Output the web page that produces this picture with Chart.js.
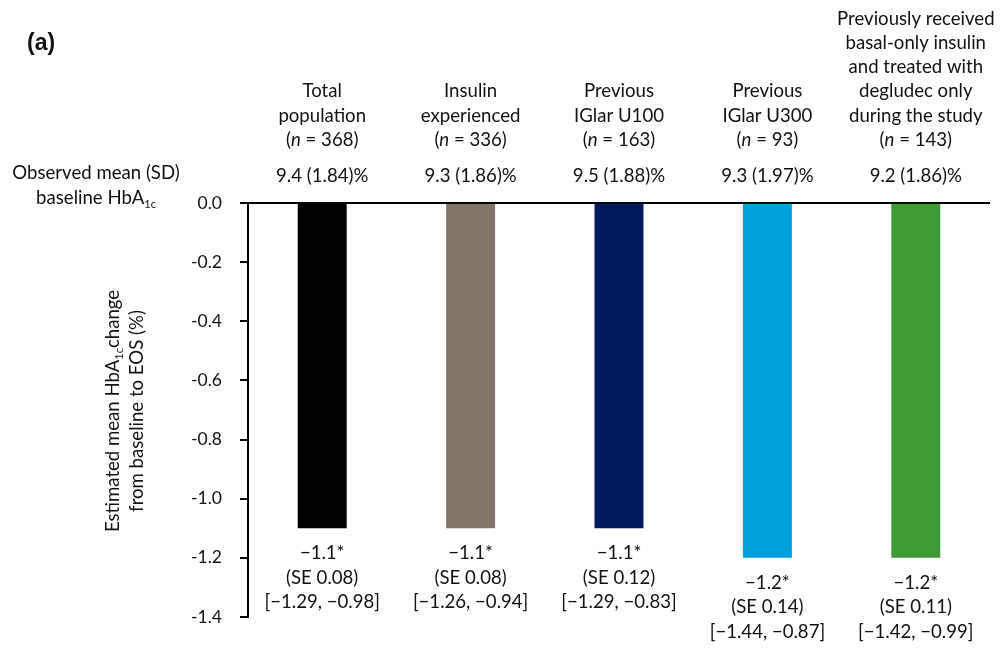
<!DOCTYPE html>
<html>
<head>
<meta charset="utf-8">
<script src="https://cdn.jsdelivr.net/npm/chart.js@4.4.1/dist/chart.umd.min.js"></script>
<style>
  body { margin: 0; background: #fff; }
  canvas { display: block; }
</style>
</head>
<body>
<canvas id="hba1cChart" width="1000" height="653"></canvas>
<script>
// DATA
const groupLines = [
    ['Total', 'population'],
    ['Insulin', 'experienced'],
    ['Previous', 'IGlar U100'],
    ['Previous', 'IGlar U300'],
    ['Previously received', 'basal-only insulin', 'and treated with', 'degludec only', 'during the study']
];
const groupN = [368, 336, 163, 93, 143];
const baselineMean = [9.4, 9.3, 9.5, 9.3, 9.2];
const baselineSD = [1.84, 1.86, 1.88, 1.97, 1.86];
const changeValues = [-1.1, -1.1, -1.1, -1.2, -1.2];
const changeSE = [0.08, 0.08, 0.12, 0.14, 0.11];
const ciLower = [-1.29, -1.26, -1.29, -1.44, -1.42];
const ciUpper = [-0.98, -0.94, -0.83, -0.87, -0.99];
const barColors = ['#000000', '#837669', '#001a5e', '#00a1dc', '#3f9c35'];
const yMin = -1.4, yMax = 0, yStep = 0.2;

const FONT = 'Lato, "Open Sans", sans-serif';
const minus = v => (v < 0 ? '\u2212' : '') + Math.abs(v).toFixed(2);

// draw a row of text pieces (normal / italic / subscript), centred on cx
const drawRuns = (ctx, runs, cx, y) => {
    let total = 0;
    runs.forEach(r => {
        ctx.font = r.font;
        r.w = ctx.measureText(r.t).width;
        total += r.w;
    });
    let x = cx - total / 2;
    ctx.textAlign = 'left';
    ctx.textBaseline = 'middle';
    runs.forEach(r => {
        ctx.font = r.font;
        ctx.fillText(r.t, x, y + (r.dy || 0));
        x += r.w;
    });
};

const reg = `18.6px ${FONT}`;
const ital = `italic 18.6px ${FONT}`;
const sub = `11px ${FONT}`;

const textPlugin = {
    id: 'textPlugin',
    afterDraw(chart) {
        const ctx = chart.ctx;
        const xs = chart.scales.x;
        const ys = chart.scales.y;
        ctx.save();
        ctx.fillStyle = '#111';

        // panel label
        ctx.font = `bold 23px "Liberation Sans", Arial, sans-serif`;
        ctx.textAlign = 'left';
        ctx.textBaseline = 'middle';
        ctx.fillText('(a)', 27, 44);

        // row label
        drawRuns(ctx, [{ t: 'Observed mean (SD)', font: reg }], 96, 173);
        drawRuns(ctx, [{ t: 'baseline HbA', font: reg }, { t: '1c', font: sub, dy: 6 }], 96, 198);

        groupLines.forEach((lines, i) => {
            const cx = xs.getPixelForValue(i);
            const nLineY = 140;
            lines.forEach((line, j) => {
                drawRuns(ctx, [{ t: line, font: reg }], cx, nLineY - (lines.length - j) * 24.3);
            });
            drawRuns(ctx, [
                { t: '(', font: reg }, { t: 'n', font: ital }, { t: ' = ' + groupN[i] + ')', font: reg }
            ], cx, nLineY);
            drawRuns(ctx, [{ t: `${baselineMean[i].toFixed(1)} (${baselineSD[i].toFixed(2)})%`, font: reg }], cx, 176);

            // estimate annotation under each bar
            const yEnd = ys.getPixelForValue(changeValues[i]);
            const v = changeValues[i];
            drawRuns(ctx, [{ t: '\u2212' + Math.abs(v).toFixed(1) + '*', font: reg }], cx, yEnd + 25);
            drawRuns(ctx, [{ t: `(SE ${changeSE[i].toFixed(2)})`, font: reg }], cx, yEnd + 49.5);
            drawRuns(ctx, [{ t: `[${minus(ciLower[i])}, ${minus(ciUpper[i])}]`, font: reg }], cx, yEnd + 74);
        });

        // rotated y-axis title
        ctx.translate(125, 411);
        ctx.rotate(-Math.PI / 2);
        drawRuns(ctx, [
            { t: 'Estimated mean HbA', font: reg }, { t: '1c', font: sub, dy: 6 }, { t: 'change', font: reg }
        ], 0, -12);
        drawRuns(ctx, [{ t: 'from baseline to EOS (%)', font: reg }], 0, 12);
        ctx.restore();
    }
};

new Chart(document.getElementById('hba1cChart').getContext('2d'), {
    type: 'bar',
    data: {
        labels: groupLines.map(l => l.join(' ')),
        datasets: [{
            data: changeValues,
            backgroundColor: barColors,
            borderWidth: 0,
            barPercentage: 0.33,
            categoryPercentage: 1
        }]
    },
    options: {
        responsive: false,
        animation: false,
        layout: { padding: { top: 203, bottom: 36, left: 0, right: 10 } },
        plugins: { legend: { display: false }, tooltip: { enabled: false } },
        scales: {
            x: { display: false },
            y: {
                min: yMin,
                max: yMax,
                z: 1,
                afterFit: s => { s.width = 248; },
                ticks: {
                    stepSize: yStep,
                    padding: 18,
                    color: '#111',
                    font: { family: FONT, size: 17.5 },
                    callback: v => Math.abs(v) < 1e-9 ? '0.0' : Number(v).toFixed(1)
                },
                grid: {
                    drawOnChartArea: true,
                    drawTicks: true,
                    tickLength: 8,
                    lineWidth: 2,
                    tickColor: '#000',
                    color: c => (c.tick && Math.abs(c.tick.value) < 1e-9) ? '#000' : 'rgba(0,0,0,0)'
                },
                border: { display: true, color: '#000', width: 2 }
            }
        }
    },
    plugins: [textPlugin]
});
</script>
</body>
</html>
